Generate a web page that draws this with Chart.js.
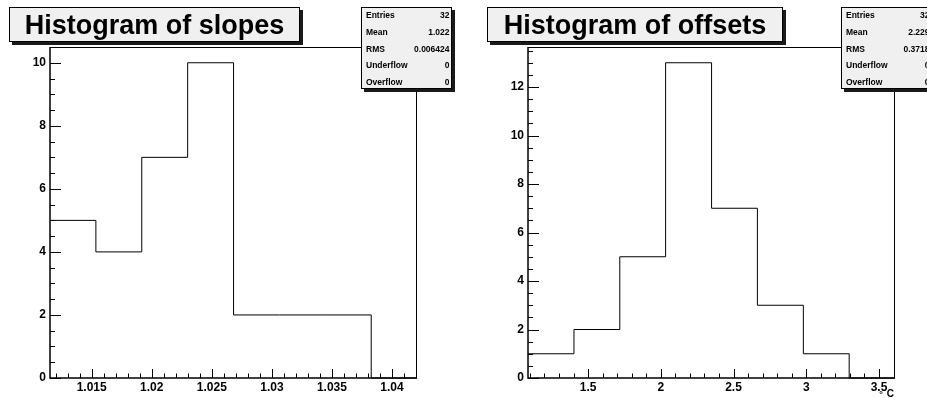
<!DOCTYPE html>
<html>
<head>
<meta charset="utf-8">
<script src="https://cdn.jsdelivr.net/npm/chart.js@4"></script>
<style>
  html, body { margin: 0; padding: 0; background: #fff; overflow: hidden; }
  #wrap { position: relative; width: 927px; height: 398px; }
  canvas { position: absolute; top: 0; }
</style>
</head>
<body>
<div id="wrap">
  <canvas id="slopes" width="463" height="398" style="left:0"></canvas>
  <canvas id="offsets" width="464" height="398" style="left:463px"></canvas>
</div>
<script>
// ---- Histogram of slopes ----
const slopeEdges  = [1.01153, 1.01535, 1.01917, 1.02299, 1.02681, 1.03063, 1.03445, 1.03827, 1.04208];
const slopeCounts = [5, 4, 7, 10, 2, 2, 2, 0];
const slopeXTicks = [1.015, 1.02, 1.025, 1.03, 1.035, 1.04];
const slopeYTicks = [0, 2, 4, 6, 8, 10];
const slopeStats  = [["Entries", "32"], ["Mean", "1.022"], ["RMS", "0.006424"], ["Underflow", "0"], ["Overflow", "0"]];

// ---- Histogram of offsets ----
const offsetEdges  = [1.087, 1.403, 1.718, 2.033, 2.349, 2.664, 2.980, 3.295, 3.610];
const offsetCounts = [1, 2, 5, 13, 7, 3, 1, 0];
const offsetXTicks = [1.5, 2, 2.5, 3, 3.5];
const offsetYTicks = [0, 2, 4, 6, 8, 10, 12];
const offsetStats  = [["Entries", "32"], ["Mean", "2.229"], ["RMS", "0.3718"], ["Underflow", "0"], ["Overflow", "0"]];

const FONT = '"Liberation Sans", Arial, Helvetica, sans-serif';

function fmt(v) { return String(Number(v.toFixed(4))); }

// Step outline: each bin keeps its height until the next edge.
function stepPoints(edges, counts) {
  const pts = counts.map((c, i) => ({ x: edges[i], y: c }));
  pts.push({ x: edges[edges.length - 1], y: counts[counts.length - 1] });
  return pts;
}

function shadowBox(ctx, x, y, w, h) {
  ctx.fillStyle = '#1a1a1a';
  ctx.fillRect(x + 3, y + 3, w, h);
  ctx.fillStyle = '#f0f0f0';
  ctx.fillRect(x, y, w, h);
  ctx.strokeStyle = '#000';
  ctx.lineWidth = 1;
  ctx.strokeRect(x + 0.5, y + 0.5, w - 1, h - 1);
}

// Frame, inside ticks, title box and statistics box in the ROOT manner.
const rootDecor = {
  id: 'rootDecor',
  afterDatasetsDraw(chart, args, o) {
    const ctx = chart.ctx;
    const a = chart.chartArea;
    const xs = chart.scales.x, ys = chart.scales.y;
    ctx.save();

    // frame
    ctx.strokeStyle = '#000';
    ctx.lineWidth = 1;
    ctx.beginPath();
    ctx.moveTo(a.left, a.top + 0.5); ctx.lineTo(a.right, a.top + 0.5);
    ctx.moveTo(a.right - 0.5, a.top); ctx.lineTo(a.right - 0.5, a.bottom);
    ctx.stroke();
    ctx.lineWidth = 1.5;
    ctx.beginPath();
    ctx.moveTo(a.left, a.top); ctx.lineTo(a.left, a.bottom);
    ctx.lineTo(a.right, a.bottom);
    ctx.stroke();

    // y ticks
    ctx.lineWidth = 1;
    ctx.beginPath();
    for (let v = ys.min; v <= ys.max + 1e-9; v += o.yMinor) {
      const y = Math.round(ys.getPixelForValue(v)) + 0.5;
      const major = Math.abs(v / o.yMajor - Math.round(v / o.yMajor)) < 1e-6;
      ctx.moveTo(a.left, y); ctx.lineTo(a.left + (major ? 11 : 5), y);
    }
    // x ticks
    const start = Math.ceil(xs.min / o.xMinor - 1e-6);
    for (let k = start; k * o.xMinor <= xs.max + 1e-9; k++) {
      const v = k * o.xMinor;
      const x = Math.round(xs.getPixelForValue(v)) + 0.5;
      const major = k % o.xPer === 0;
      ctx.moveTo(x, a.bottom); ctx.lineTo(x, a.bottom - (major ? 9 : 4.5));
    }
    ctx.stroke();

    // axis title
    if (o.xTitle) {
      ctx.fillStyle = '#000';
      ctx.font = 'bold 9px ' + FONT;
      ctx.textAlign = 'center';
      ctx.textBaseline = 'alphabetic';
      ctx.fillText('\u00B0', a.right - 14, 397);
      ctx.font = 'bold 10px ' + FONT;
      ctx.textAlign = 'right';
      ctx.fillText(o.xTitle, a.right - 1, 397);
    }

    // statistics box
    const s = o.stats;
    shadowBox(ctx, s.x, s.y, s.w, s.h);
    ctx.fillStyle = '#000';
    ctx.font = 'bold 8.5px ' + FONT;
    ctx.textBaseline = 'middle';
    o.statRows.forEach((r, i) => {
      const y = s.y + 8.8 + i * 16.7;
      ctx.textAlign = 'left';
      ctx.fillText(r[0], s.x + 5, y);
      ctx.textAlign = 'right';
      ctx.fillText(r[1], s.x + s.w - 2.5, y);
    });

    // title box
    const t = o.title;
    shadowBox(ctx, t.x, t.y, t.w, t.h);
    ctx.fillStyle = '#000';
    ctx.font = 'bold 27px ' + FONT;
    ctx.textAlign = 'center';
    ctx.textBaseline = 'alphabetic';
    ctx.fillText(t.text, t.x + t.w / 2, t.y + 26.8);

    ctx.restore();
  }
};

function makeHist(id, edges, counts, xTicks, yTicks, yMax, yWidth, padRight, decor) {
  const tickFont = { family: FONT, size: 12, weight: 'bold' };
  return new Chart(document.getElementById(id), {
    type: 'line',
    data: {
      datasets: [{
        data: stepPoints(edges, counts),
        stepped: 'before',
        borderColor: '#000',
        borderWidth: 1,
        pointRadius: 0,
        fill: false,
        clip: false
      }]
    },
    options: {
      responsive: false,
      animation: false,
      devicePixelRatio: 1,
      layout: { padding: { left: 0, top: 47, right: padRight, bottom: 0 } },
      plugins: { legend: { display: false }, tooltip: { enabled: false }, rootDecor: decor },
      scales: {
        x: {
          type: 'linear',
          min: edges[0],
          max: edges[edges.length - 1],
          afterBuildTicks: sc => { sc.ticks = xTicks.map(v => ({ value: v })); },
          afterFit: sc => { sc.height = 20; },
          grid: { display: false, drawTicks: false },
          border: { display: false },
          ticks: { padding: 2, color: '#000', font: tickFont, maxRotation: 0, autoSkip: false, callback: v => fmt(v) }
        },
        y: {
          type: 'linear',
          min: 0,
          max: yMax,
          afterBuildTicks: sc => { sc.ticks = yTicks.map(v => ({ value: v })); },
          afterFit: sc => { sc.width = yWidth; },
          grid: { display: false, drawTicks: false },
          border: { display: false },
          ticks: { padding: 4, color: '#000', font: tickFont, autoSkip: false, callback: v => fmt(v) }
        }
      }
    },
    plugins: [rootDecor]
  });
}

makeHist('slopes', slopeEdges, slopeCounts, slopeXTicks, slopeYTicks, 10.5, 50, 46, {
  yMinor: 0.5, yMajor: 2, xMinor: 0.001, xPer: 5,
  title: { x: 9, y: 7, w: 291, h: 35, text: 'Histogram of slopes' },
  stats: { x: 361, y: 7, w: 91, h: 82 },
  statRows: slopeStats
});

makeHist('offsets', offsetEdges, offsetCounts, offsetXTicks, offsetYTicks, 13.65, 65, 32, {
  yMinor: 0.5, yMajor: 2, xMinor: 0.1, xPer: 5,
  xTitle: 'C',
  title: { x: 24, y: 7, w: 296, h: 35, text: 'Histogram of offsets' },
  stats: { x: 378, y: 7, w: 91, h: 82 },
  statRows: offsetStats
});
</script>
</body>
</html>
